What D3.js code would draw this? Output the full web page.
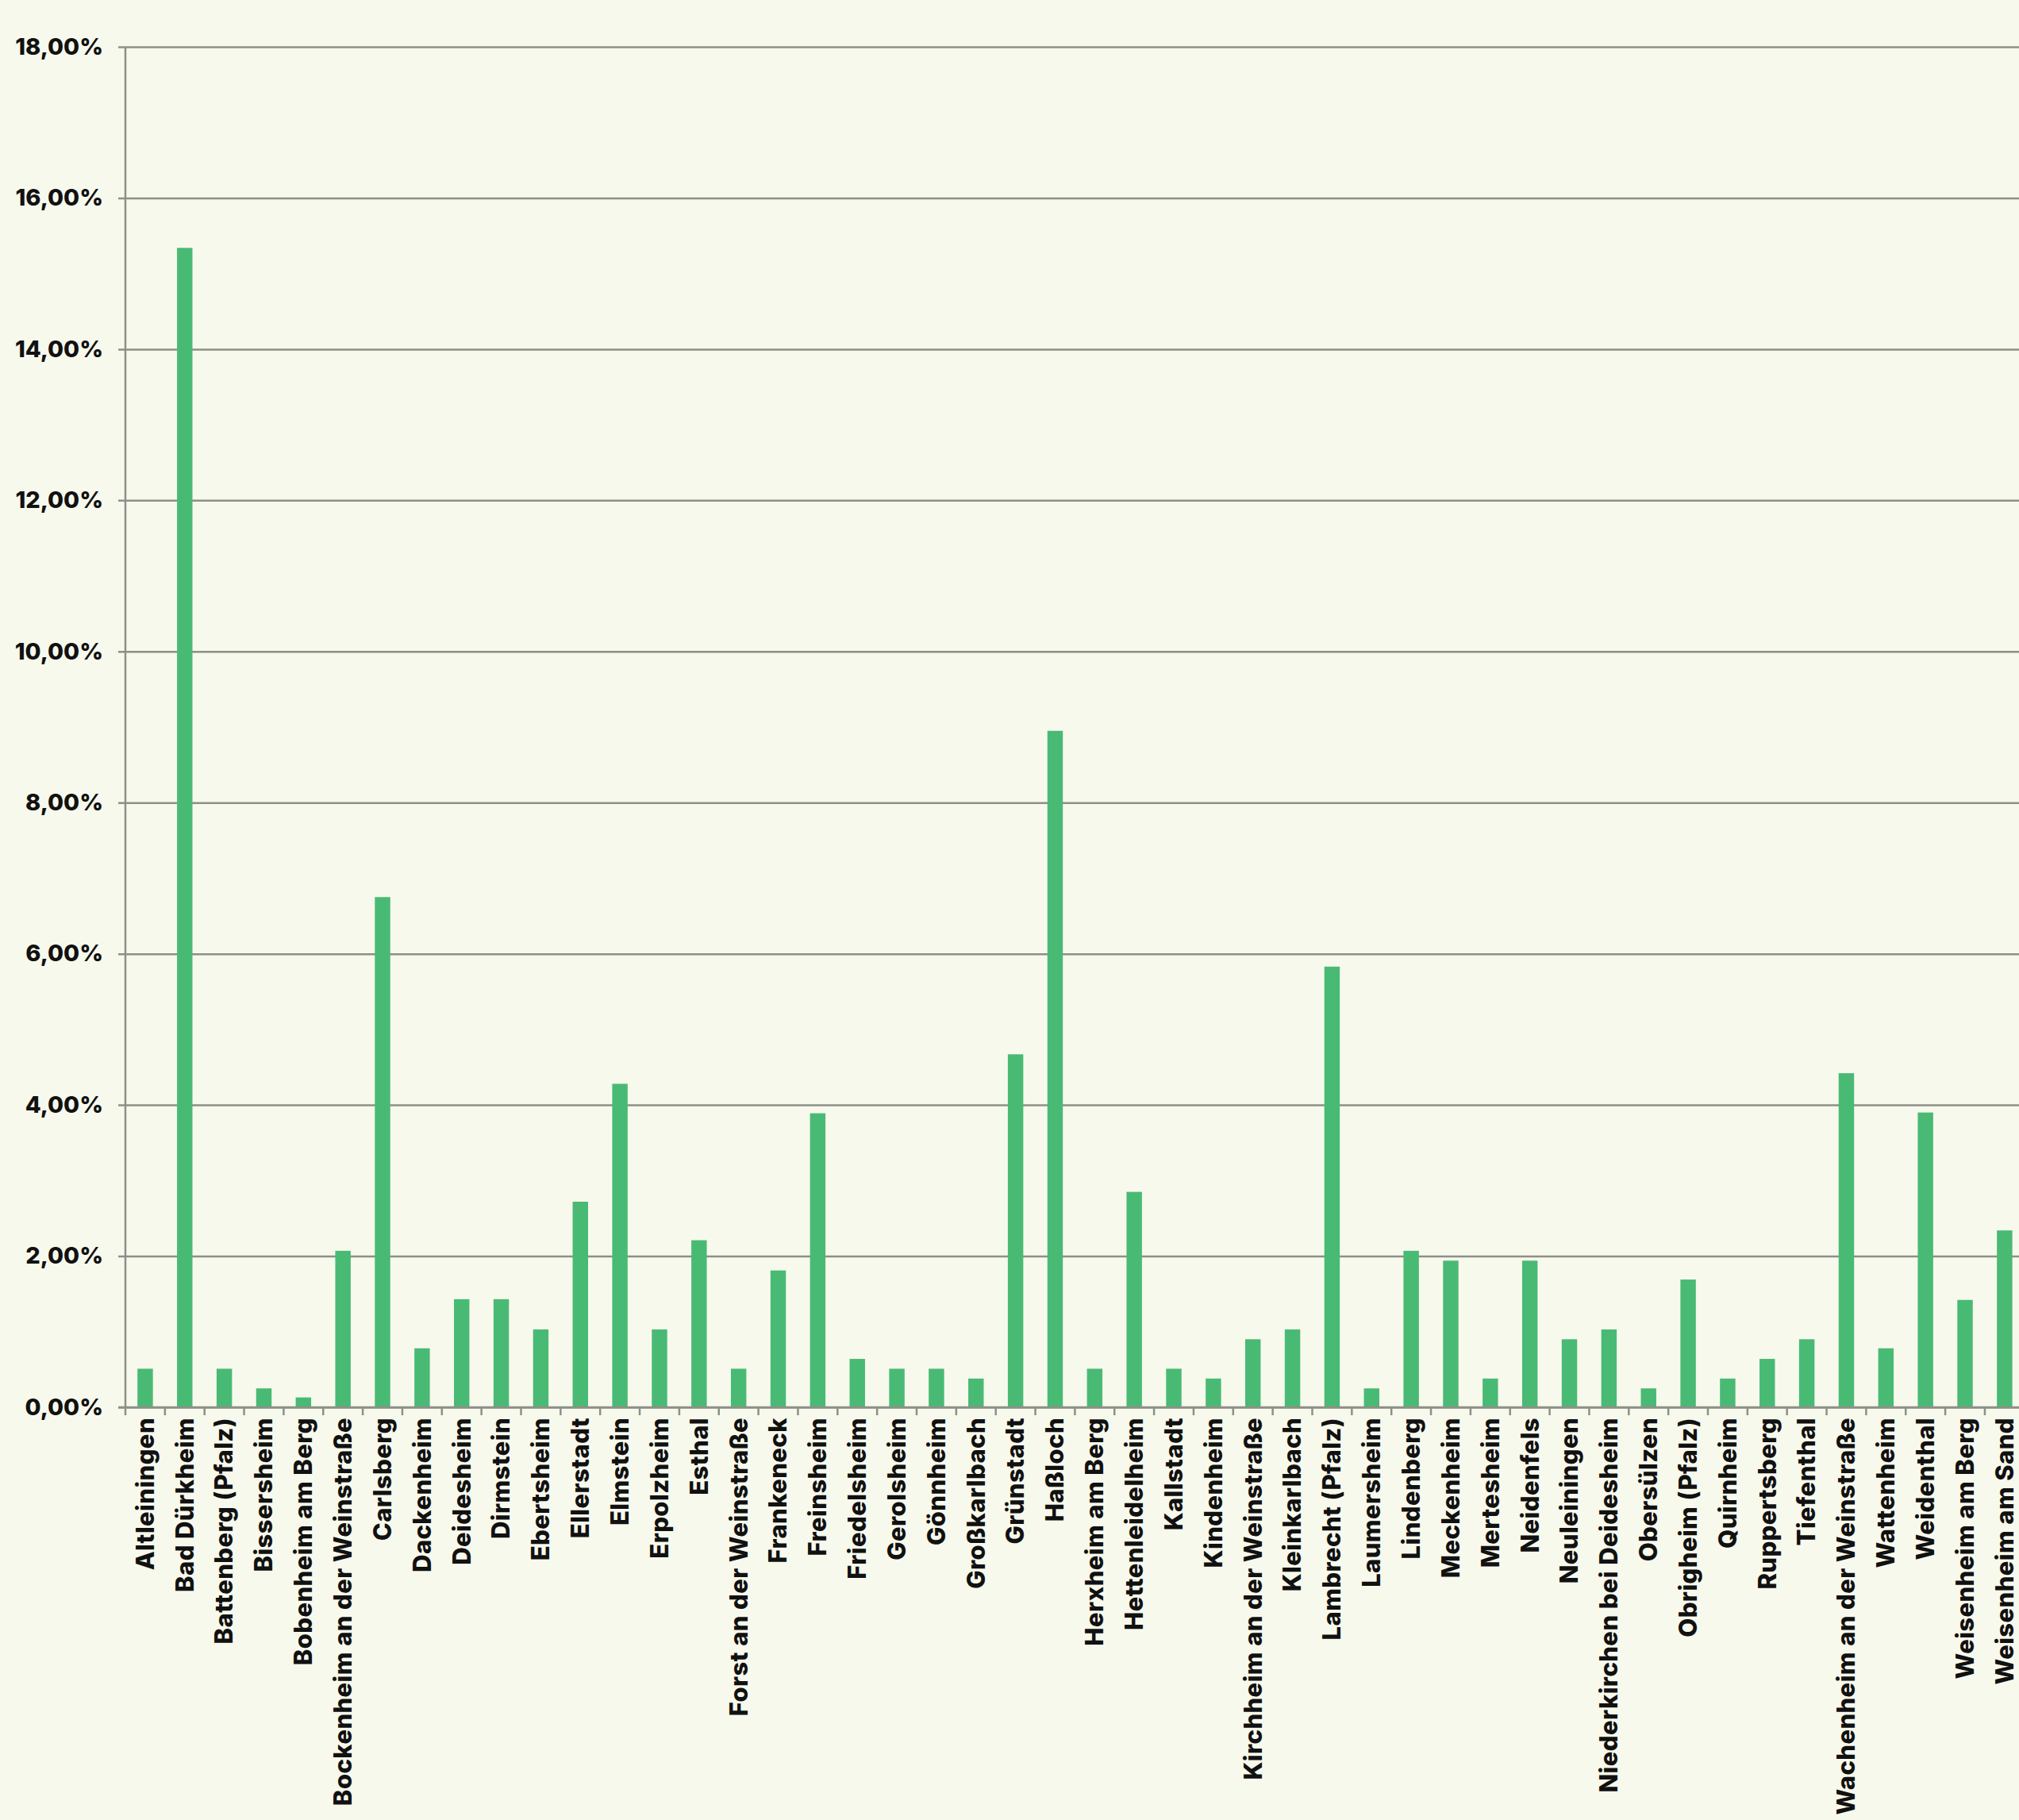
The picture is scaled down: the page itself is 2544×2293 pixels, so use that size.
<!DOCTYPE html>
<html>
<head>
<meta charset="utf-8">
<script src="https://cdn.jsdelivr.net/npm/d3@7"></script>
<style>
  html, body { margin: 0; padding: 0; background: #f7f9ec; overflow: hidden; }
  svg { display: block; }
</style>
</head>
<body>
<div class="chart"></div>
<script>
// Gemeinden im Landkreis Bad Dürkheim
var gemeinden = [
  "Altleiningen", "Bad Dürkheim", "Battenberg (Pfalz)", "Bissersheim", "Bobenheim am Berg",
  "Bockenheim an der Weinstraße", "Carlsberg", "Dackenheim", "Deidesheim", "Dirmstein",
  "Ebertsheim", "Ellerstadt", "Elmstein", "Erpolzheim", "Esthal",
  "Forst an der Weinstraße", "Frankeneck", "Freinsheim", "Friedelsheim", "Gerolsheim",
  "Gönnheim", "Großkarlbach", "Grünstadt", "Haßloch", "Herxheim am Berg",
  "Hettenleidelheim", "Kallstadt", "Kindenheim", "Kirchheim an der Weinstraße", "Kleinkarlbach",
  "Lambrecht (Pfalz)", "Laumersheim", "Lindenberg", "Meckenheim", "Mertesheim",
  "Neidenfels", "Neuleiningen", "Niederkirchen bei Deidesheim", "Obersülzen", "Obrigheim (Pfalz)",
  "Quirnheim", "Ruppertsberg", "Tiefenthal", "Wachenheim an der Weinstraße", "Wattenheim",
  "Weidenthal", "Weisenheim am Berg", "Weisenheim am Sand"
];

// Anteil in Prozent
var anteil = [
  0.51, 15.34, 0.51, 0.25, 0.13,
  2.07, 6.75, 0.78, 1.43, 1.43,
  1.03, 2.72, 4.28, 1.03, 2.21,
  0.51, 1.81, 3.89, 0.64, 0.51,
  0.51, 0.38, 4.67, 8.95, 0.51,
  2.85, 0.51, 0.38, 0.90, 1.03,
  5.83, 0.25, 2.07, 1.94, 0.38,
  1.94, 0.90, 1.03, 0.25, 1.69,
  0.38, 0.64, 0.90, 4.42, 0.78,
  3.90, 1.42, 2.34
];

var yTicks = [0, 2, 4, 6, 8, 10, 12, 14, 16, 18];

var data = gemeinden.map((g, i) => ({gemeinde: g, wert: anteil[i]}));

var width = 2544,
  height = 2293,
  axisX = 158,
  plotRight = 158 + 48 * 49.85,
  baseY = 1773,
  topY = 59,
  green = "#49ba74",
  grid = "#8d9087",
  font = "Inter, 'Open Sans', sans-serif";

var de = d3.formatLocale({decimal: ",", thousands: ".", grouping: [3], currency: ["", " €"]});
var fmt = de.format(".2f");

var svg = d3.select(".chart")
  .append("svg")
  .attr("width", width)
  .attr("height", height)
  .style("background", "#f7f9ec");

var xScale = d3.scaleBand()
  .domain(gemeinden)
  .range([axisX, plotRight])
  .paddingInner(0.61)
  .paddingOuter(0.305);

var yScale = d3.scaleLinear().domain([0, 18]).range([baseY, topY]);

// gridlines + y labels
var yAxis = d3.axisLeft(yScale)
  .tickValues(yTicks)
  .tickSizeInner(-(plotRight - axisX + 9))
  .tickSizeOuter(0)
  .tickPadding(19)
  .tickFormat(d => fmt(d) + "%");

var gy = svg.append("g")
  .attr("class", "y axis")
  .attr("transform", `translate(${axisX - 9},0)`)
  .call(yAxis);

gy.select(".domain").remove();
gy.selectAll(".tick line")
  .attr("stroke", grid)
  .attr("stroke-width", 2.5);
gy.selectAll(".tick text")
  .attr("fill", "#111")
  .style("font-family", font)
  .style("font-weight", 800)
  .style("font-size", "29px");

// vertical axis line
svg.append("line")
  .attr("x1", axisX).attr("x2", axisX)
  .attr("y1", yScale(18)).attr("y2", yScale(0) + 10)
  .attr("stroke", grid)
  .attr("stroke-width", 2.5);

// bars
svg.selectAll(".bar")
  .data(data)
  .enter().append("rect")
  .attr("class", "bar")
  .attr("x", d => xScale(d.gemeinde))
  .attr("y", d => yScale(d.wert))
  .attr("width", xScale.bandwidth())
  .attr("height", d => yScale(0) - yScale(d.wert))
  .style("fill", green);

// category ticks between bars
var gap = (xScale.step() - xScale.bandwidth()) / 2;
svg.selectAll(".xtick")
  .data(gemeinden)
  .enter().append("line")
  .attr("class", "xtick")
  .attr("x1", d => xScale(d) + xScale.bandwidth() + gap)
  .attr("x2", d => xScale(d) + xScale.bandwidth() + gap)
  .attr("y1", yScale(0))
  .attr("y2", yScale(0) + 10)
  .attr("stroke", grid)
  .attr("stroke-width", 2.5);

// baseline drawn above bars
svg.append("line")
  .attr("x1", axisX - 9).attr("x2", width)
  .attr("y1", yScale(0)).attr("y2", yScale(0))
  .attr("stroke", grid)
  .attr("stroke-width", 2.5);

// x labels, rotated
svg.selectAll(".xlabel")
  .data(gemeinden)
  .enter().append("text")
  .attr("class", "xlabel")
  .attr("transform", d => `translate(${xScale(d) + xScale.bandwidth() / 2},${yScale(0) + 13})rotate(-90)`)
  .attr("dy", "0.35em")
  .attr("text-anchor", "end")
  .attr("fill", "#111")
  .style("font-family", font)
  .style("font-weight", 800)
  .style("font-size", "31px")
  .style("letter-spacing", "0.4px")
  .text(d => d);
</script>
</body>
</html>
